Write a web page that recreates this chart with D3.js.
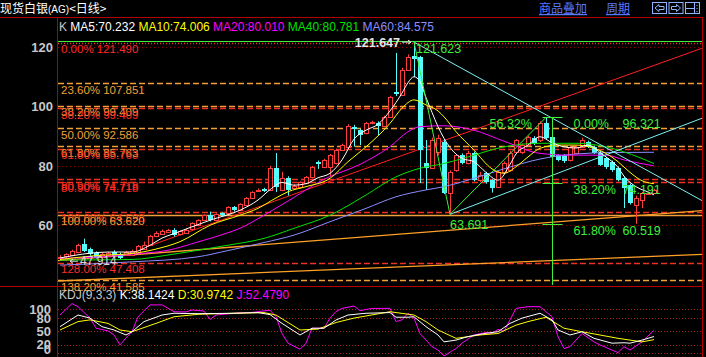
<!DOCTYPE html>
<html>
<head>
<meta charset="utf-8">
<script src="https://cdn.jsdelivr.net/npm/d3@7"></script>
<style>
  body { margin: 0; background: #000; }
  svg { display: block; font-family: "Liberation Sans", Arial, sans-serif; }
</style>
</head>
<body>
<div id="chart"></div>
<script>
// daily candles, index 0..99
const candleOpen  = [49.0,49.5,50.3,51.0,53.8,52.0,50.8,49.8,50.0,51.0, 50.5,50.0,50.3,50.8,52.0,53.5,56.5,57.3,57.8,58.4, 57.0,57.6,58.7,60.0,61.7,63.4,61.7,64.0,64.1,66.0, 65.1,66.8,69.2,71.6,72.2,71.9,79.3,71.9,76.0,72.5, 72.9,74.2,76.2,81.2,79.6,79.5,80.9,85.3,86.5,93.0, 92.0,91.0,94.4,94.5,93.4,96.5,104.8,104.0,112.3,117.1, 116.5,81.0,79.3,84.6,88.0,70.8,78.6,83.6,81.0,84.3, 75.2,77.5,75.2,72.9,77.9,78.6,84.6,84.6,87.0,89.4, 88.7,94.4,89.7,83.6,83.6,82.0,84.3,86.3,88.0,86.3, 84.3,82.6,81.3,79.3,75.9,73.5,66.8,68.5,70.8,70.8];
const candleHigh  = [50.0,50.6,51.8,53.8,55.5,52.5,51.2,50.9,51.0,51.6, 50.8,51.4,51.8,53.4,54.5,56.8,58.0,58.6,58.8,59.0, 58.3,58.9,61.0,62.0,63.7,64.6,64.0,64.4,66.4,66.5, 67.4,69.5,71.5,72.4,72.6,80.0,84.3,78.0,76.5,73.8, 74.8,76.6,80.0,81.8,82.4,84.0,85.8,87.5,94.0,93.8, 92.5,94.8,95.2,95.0,96.9,103.6,118.0,113.0,117.5,121.647, 117.0,88.7,89.5,90.5,89.0,78.5,84.0,84.2,85.0,84.8, 78.0,78.0,75.5,78.3,81.5,85.0,89.0,87.5,90.2,90.0, 95.0,96.321,90.0,84.0,84.0,86.8,86.8,89.5,88.5,86.8, 85.0,83.0,81.8,79.8,76.5,74.0,70.0,71.2,71.3,72.3];
const candleLow   = [48.5,47.914,49.8,50.6,51.0,49.8,48.8,49.4,49.6,49.6, 48.6,49.8,50.0,50.5,51.8,53.2,56.0,57.0,57.4,56.2, 56.6,57.3,58.4,59.7,61.4,61.3,61.4,63.0,63.8,64.6, 64.8,66.5,68.9,71.2,71.2,71.5,71.2,71.5,70.0,72.0, 72.4,73.8,75.8,79.0,79.2,76.5,80.5,85.0,86.2,86.5, 87.0,90.6,94.0,90.4,93.0,96.2,103.5,103.6,112.0,110.0, 74.2,71.9,79.0,83.5,70.5,63.691,78.0,80.5,80.5,74.8, 74.5,74.0,71.0,72.5,77.0,78.0,84.0,84.0,86.5,87.0, 88.0,89.0,82.5,81.5,81.0,81.5,84.0,86.0,86.0,84.0, 80.0,79.0,78.0,74.8,65.8,67.0,60.519,65.8,70.4,70.5];
const candleClose = [49.5,50.3,51.5,53.4,51.5,50.3,49.2,50.4,50.6,49.8, 49.2,51.0,51.5,53.0,53.5,56.5,57.5,58.2,58.4,56.8, 58.0,58.5,60.7,61.7,63.4,61.7,63.8,63.3,66.1,65.0, 67.1,69.2,71.2,71.9,71.6,79.3,72.9,75.9,71.9,73.2, 74.5,76.2,79.5,80.4,82.0,83.5,85.3,87.0,93.5,92.3, 90.4,94.4,94.7,93.4,96.5,103.2,104.2,112.3,116.7,116.2, 85.3,79.3,88.7,89.4,70.8,77.9,83.6,81.0,84.3,75.2, 77.0,74.5,72.5,77.9,81.0,84.3,88.7,87.0,89.7,87.7, 94.4,89.4,83.0,82.0,81.6,86.3,86.3,88.7,86.3,84.3, 80.3,79.6,78.6,75.2,72.5,67.5,69.2,70.8,70.9,71.9];

// moving averages at sample candles
const ma5Idx = [0,5,8,12,15,17,19,22,25,30,33,35,37,39,41,43,45,47,49,51,53,55,57,58,59,60,61,62,63,65,67,69,71,73,75,76,78,80,82,84,86,88,90,91,93,94,96,98,99];
const ma5Val = [49,50.6,51,51,53.3,55.7,57.2,59.5,61.7,65.1,68.5,72,74.4,73.5,74,76,77.5,82,89,92,94,98.5,104.5,108,110,108.3,103,98,93.2,86.2,82.5,81.4,77.8,75.2,80.5,84,87,89.8,87.8,86.4,86,87,84.5,83,79.5,76.5,73,71.2,70.232];
const ma10Idx = [0,6,12,16,20,25,30,33,36,38,41,45,48,51,55,57,59,61,63,64,66,69,72,74,76,78,80,83,86,89,91,93,95,97,99];
const ma10Val = [48.5,49.8,50.5,52,54.5,60,63.4,65.7,69.2,71.3,73,75.8,81.4,86.4,94.3,99.4,102.2,100.5,98.5,96.5,91.5,85.3,79,77.5,79.7,83,85.9,87,87,85.9,84.2,81.4,77.8,75,74.006];
const ma20Idx = [0,7,12,18,23,28,30,34,39,44,50,55,58,60,64,66,69,74,80,85,91,94,99];
const ma20Val = [48.9,49.4,50.3,51.6,54.4,57.5,59,63.4,69.4,75.5,80.5,86.5,91.5,93.2,93.5,93.2,92,88.3,84.2,83.6,83.6,82,80.01];
const ma40Idx = [0,12,18,23,28,34,39,45,51,56,60,64,68,74,80,86,91,94,99];
const ma40Val = [48.3,48.5,50,51.6,53.3,55.6,59,63.4,70.2,76.3,79.2,80.8,83,86.4,87.6,87.6,86.4,84.7,80.781];
const ma60Idx = [0,12,23,28,34,39,45,51,56,61,64,68,74,80,86,92,99];
const ma60Val = [46.6,47.7,49.4,51.5,54.2,56.7,61.2,65.7,69.6,71.9,73,75.2,79,82.3,84,84.5,84.575];

// KDJ(9,3,3) read at sample candles
const kIdx = [0,3,5,7,9,11,12,14,17,19,23,29,33,35,37,40,42,44,46,48,51,55,56,58,59,61,63,64,66,68,71,73,75,77,80,82,83,85,87,89,92,94,95,97,99];
const kVal = [60.5,87,80,60.5,53,41.6,49,72,87,91,90,91,92.5,88,68,41.6,57,57,75.7,87,91,92.5,82,82,83,60.5,41.6,26,30,38,45.5,49,68,80,91,76,53,41.6,49,34,23,24,23,30,38.1424];
const dIdx = [0,3,5,8,10,12,16,19,23,29,34,36,40,43,46,49,55,59,61,63,66,70,73,76,78,81,84,87,90,93,97,99];
const dVal = [53,72,76,68,53,49,68,83,88.6,91,92.5,87,53,55,70,80,94.5,87,72,53,34,41.6,45,64,72,82,57,49,41.6,34,26,30.9742];
const jIdx = [0,2,3,5,6,8,9,10,11,12,13,15,17,19,21,22,24,25,26,29,32,35,36,37,38,40,41,42,44,45,46,47,49,50,52,55,56,57,58,59,60,62,63,64,66,67,69,71,72,73,74,76,78,80,82,83,84,85,87,89,90,93,94,95,97,99];
const jVal = [87,113,106,80,57,51,41.6,19,35,49,83,110,110,94.5,94,98.4,96,77,87,91,93,98,83,45,23,9,23,57,57,80,95,102,107.5,97,102,102,72,76,91,80,45,15,7.5,-6,11,23,42,47,45,54.5,50,102,106,106,83,38,11,15,45,26,19,1.5,15,7.5,26,52.4790];

const priceTicks = [60, 80, 100, 120];
const kdjTicks = [0, 20, 50, 80, 100];

// fibonacci levels
const fibRedLabels = ["0.00%", "38.20%", "61.80%", "80.90%", "128.00%"];
const fibRedValues = [121.490, 99.409, 85.763, 74.718, 47.408];
const fibOrangeLabels = ["23.60%", "50.00%", "100.00%", "138.20%"];
const fibOrangeValues = [107.851, 92.586, 63.620, 41.585];
// second, slightly shifted copy of the tool (lines at these prices)
const ghostLabels = ["38.20% 99.409", "61.80% 85.763", "80.90% 74.718", "100.00% 64.598"];
const ghostValues = [100.2, 86.6, 75.5, 64.598];

// drawn trend lines: [candle index, price]
const greenZig = [[59, 121.647], [65, 63.691], [81, 96.321]];
const cyanDown = [[59, 121.647], [108, 67.2]];
const cyanUp = [[65, 63.691], [108, 96.8]];
const redTrend = [[13, 51.7], [108, 120.3]];
const orangeRise1 = [[-1, 48.0], [108, 65.1]];
const orangeRise2 = [[-1, 41.2], [108, 50.3]];

// green retracement tool
const gFibIdx = 82;
const gFibLabels = ["0.00%", "38.20%", "61.80%"];
const gFibValues = [96.321, 74.191, 60.519];
const swingRatio = "56.32%";
const peakLabels = ["121.647", "121.623"];

const W = 706, H = 357;
const RED = "#ff3c3c", CYAN = "#54fcfc", FRAME = "#b40000";
const ORANGE = "#f2a038", FRED = "#f03020", GREEN = "#3cf03c";

const svg = d3.select("#chart").append("svg")
    .attr("width", W).attr("height", H)
    .style("background", "#000");

const x = d3.scaleLinear().domain([0, 99]).range([60, 654]);
const y = d3.scaleLinear().domain([60, 120]).range([225.3, 47]);
const yk = d3.scaleLinear().domain([0, 100]).range([353.3, 309.3]);
const cx = i => Math.round(x(i)) + 0.5;

const defs = svg.append("defs");
defs.append("clipPath").attr("id", "clipMain").append("rect")
    .attr("x", 58).attr("y", 18).attr("width", 644).attr("height", 267);
defs.append("clipPath").attr("id", "clipKdj").append("rect")
    .attr("x", 58).attr("y", 287).attr("width", 644).attr("height", 70);

// ---- title bar ----
const title = svg.append("text").attr("x", 0).attr("y", 13)
    .attr("fill", "#fff").style("font-family", "'Noto Sans CJK SC', sans-serif").style("font-size", "12px");
title.append("tspan").text("现货白银");
title.append("tspan").style("font-size", "10px").style("font-family", "'Liberation Sans'").text("(AG)");
title.append("tspan").text("<日线>");

svg.append("text").attr("x", 539).attr("y", 13).attr("fill", "#5a78ff")
    .style("font-family", "'Noto Sans CJK SC', sans-serif").style("font-size", "12px")
    .style("text-decoration", "underline").text("商品叠加");
svg.append("text").attr("x", 606).attr("y", 13).attr("fill", "#5a78ff")
    .style("font-family", "'Noto Sans CJK SC', sans-serif").style("font-size", "12px")
    .style("text-decoration", "underline").text("周期");

const icons = svg.append("g").attr("stroke", "#8fb4ff").attr("fill", "none");
[652, 668.5, 685].forEach((bx, k) => {
    icons.append("rect").attr("x", bx + 0.5).attr("y", 2.5).attr("width", 14).attr("height", 11);
    if (k === 0) icons.append("path").attr("d", `M${bx + 3},8 l4,-3.5 v2 h5 v3 h-5 v2 z`);
    if (k === 1) icons.append("path").attr("d", `M${bx + 12},8 l-4,-3.5 v2 h-5 v3 h5 v2 z`);
    if (k === 2) icons.append("path").attr("d", `M${bx + 0.5},8.5 h9 M${bx + 9.5},2.5 v11 M${bx + 12},5 v1 M${bx + 12},8 v1 M${bx + 12},11 v1`);
});

// ---- frame ----
const frame = svg.append("g").attr("stroke", FRAME).attr("stroke-width", 1);
frame.append("line").attr("x1", 0).attr("x2", 703).attr("y1", 17.5).attr("y2", 17.5);
frame.append("line").attr("x1", 0).attr("x2", 703).attr("y1", 286.5).attr("y2", 286.5);
frame.append("line").attr("x1", 57.5).attr("x2", 57.5).attr("y1", 17).attr("y2", H);
frame.append("line").attr("x1", 702.5).attr("x2", 702.5).attr("y1", 17).attr("y2", H);

// ---- legend ----
const legend = svg.append("text").attr("x", 59).attr("y", 31).style("font-size", "12px");
legend.append("tspan").attr("fill", "#c8c8c8").text("K  ");
legend.append("tspan").attr("fill", "#fff").text("MA5:" + ma5Val[ma5Val.length - 1].toFixed(3) + " ");
legend.append("tspan").attr("fill", "#ffff00").text("MA10:" + ma10Val[ma10Val.length - 1].toFixed(3) + " ");
legend.append("tspan").attr("fill", "#ff00ff").text("MA20:" + ma20Val[ma20Val.length - 1].toFixed(3) + " ");
legend.append("tspan").attr("fill", "#00e000").text("MA40:" + ma40Val[ma40Val.length - 1].toFixed(3) + " ");
legend.append("tspan").attr("fill", "#8c8cff").text("MA60:" + ma60Val[ma60Val.length - 1].toFixed(3));

// ---- price axis ----
const yAxis = svg.append("g").attr("transform", "translate(53,0)")
    .call(d3.axisLeft(y).tickValues(priceTicks).tickSize(0).tickPadding(0));
yAxis.select(".domain").remove();
yAxis.selectAll("text").attr("fill", "#c8c8c8").style("font-size", "13px").style("font-weight", "bold")
    .style("font-family", "'Liberation Sans', Arial");

const main = svg.append("g").attr("clip-path", "url(#clipMain)");

// grid
main.append("g").selectAll("line").data(priceTicks).join("line")
    .attr("x1", 58).attr("x2", 702)
    .attr("y1", d => Math.round(y(d)) + 0.5).attr("y2", d => Math.round(y(d)) + 0.5)
    .attr("stroke", "#8a0000").attr("stroke-dasharray", "1,3");

// fib lines
const fibLine = (vals, color, dash) => main.append("g").selectAll("line").data(vals).join("line")
    .attr("x1", 58).attr("x2", 702)
    .attr("y1", d => Math.round(y(d)) + 0.5).attr("y2", d => Math.round(y(d)) + 0.5)
    .attr("stroke", color).attr("stroke-width", 1.3).attr("stroke-dasharray", dash);
const ghostColor = (d, i) => i < 2 ? ORANGE : FRED;
main.append("g").selectAll("line").data(ghostValues).join("line")
    .attr("x1", 58).attr("x2", 702)
    .attr("y1", d => Math.round(y(d)) + 0.5).attr("y2", d => Math.round(y(d)) + 0.5)
    .attr("stroke", ghostColor).attr("stroke-width", 1.3).attr("stroke-dasharray", "6,3");
fibLine(fibRedValues.slice(1), FRED, "6,3");
fibLine(fibRedValues.slice(0, 1), FRED, "1,2");
fibLine(fibOrangeValues.filter(v => v !== 63.620), ORANGE, "6,3");
fibLine([63.620], ORANGE, null);

// trend lines
const seg = d3.line().x(d => x(d[0])).y(d => y(d[1]));
const trend = (pts, color, w) => main.append("path").datum(pts)
    .attr("d", seg).attr("fill", "none").attr("stroke", color).attr("stroke-width", w || 1);
trend(orangeRise1, "#ffa028", 1.3);
trend(orangeRise2, "#ffa028", 1.3);
trend(redTrend, "#ff2020");

// fib labels (not clipped: the lowest one sits on the panel divider)
const fibTextG = svg.append("g").style("font-size", "11.5px");
fibTextG.selectAll("text.g").data(ghostValues).join("text").attr("class", "g")
    .attr("x", 61).attr("y", d => y(d) + 10.5)
    .attr("fill", (d, i) => i < 2 ? ORANGE : "#ff3018")
    .text((d, i) => ghostLabels[i]);
fibTextG.selectAll("text.o").data(fibOrangeValues).join("text").attr("class", "o")
    .attr("x", 61).attr("y", d => y(d) + 10.5).attr("fill", ORANGE)
    .text((d, i) => fibOrangeLabels[i] + " " + d.toFixed(3));
fibTextG.selectAll("text.r").data(fibRedValues).join("text").attr("class", "r")
    .attr("x", 61).attr("y", d => y(d) + 10.5).attr("fill", "#ff2a2a")
    .text((d, i) => fibRedLabels[i] + " " + d.toFixed(3));

// moving averages
const maLine = (idx, vals, color) => main.append("path")
    .datum(idx.map((d, k) => [d, vals[k]]))
    .attr("d", d3.line().x(d => x(d[0])).y(d => y(d[1])).curve(d3.curveMonotoneX))
    .attr("fill", "none").attr("stroke", color).attr("stroke-width", 1);

// candles
const candles = d3.range(candleOpen.length).map(i => ({
    i, o: candleOpen[i], h: candleHigh[i], l: candleLow[i], c: candleClose[i]
}));
const cg = main.append("g");
cg.selectAll("line").data(candles).join("line")
    .attr("x1", d => cx(d.i)).attr("x2", d => cx(d.i))
    .attr("y1", d => y(d.h)).attr("y2", d => y(d.l))
    .attr("stroke", d => d.c >= d.o ? RED : CYAN);
cg.selectAll("rect").data(candles).join("rect")
    .attr("x", d => d.c >= d.o ? cx(d.i) - 2 : cx(d.i) - 2.5)
    .attr("width", d => d.c >= d.o ? 4 : 5)
    .attr("y", d => Math.round(y(Math.max(d.o, d.c))) + (d.c >= d.o ? 0.5 : 0))
    .attr("height", d => Math.max(1, Math.round(y(Math.min(d.o, d.c)) - y(Math.max(d.o, d.c)))))
    .attr("fill", d => d.c >= d.o ? "#000" : CYAN)
    .attr("stroke", d => d.c >= d.o ? RED : "none");

maLine(ma60Idx, ma60Val, "#8c8cff");
maLine(ma40Idx, ma40Val, "#00e000");
maLine(ma20Idx, ma20Val, "#ff00ff");
maLine(ma10Idx, ma10Val, "#ffff00");
maLine(ma5Idx, ma5Val, "#ffffff");

trend(cyanDown, "#7ff0f0");
trend(cyanUp, "#7ff0f0");
trend(greenZig, GREEN);

// top green level
main.append("line").attr("x1", 58).attr("x2", 702)
    .attr("y1", Math.round(y(greenZig[0][1])) - 0.5).attr("y2", Math.round(y(greenZig[0][1])) - 0.5)
    .attr("stroke", GREEN);

// green retracement tool
const gx = cx(gFibIdx);
main.append("line").attr("x1", gx).attr("x2", gx).attr("y1", y(gFibValues[0])).attr("y2", 286)
    .attr("stroke", GREEN);
main.append("g").selectAll("line").data(gFibValues).join("line")
    .attr("x1", gx - 10).attr("x2", gx + 10)
    .attr("y1", d => Math.round(y(d)) + 0.5).attr("y2", d => Math.round(y(d)) + 0.5)
    .attr("stroke", GREEN);
const gl = main.append("g").attr("fill", GREEN).style("font-size", "12.5px");
gl.selectAll("text.p").data(gFibValues).join("text").attr("class", "p")
    .attr("x", gx + 21).attr("y", d => y(d) + 11).text((d, i) => gFibLabels[i]);
gl.selectAll("text.v").data(gFibValues).join("text").attr("class", "v")
    .attr("x", gx + 70).attr("y", d => y(d) + 11).text(d => d.toFixed(3));
gl.append("text").attr("x", gx - 63).attr("y", y(gFibValues[0]) + 11).text(swingRatio);
gl.append("text").attr("x", x(greenZig[1][0])).attr("y", y(greenZig[1][1]) + 15)
    .text(greenZig[1][1].toFixed(3));
gl.append("text").attr("x", x(greenZig[0][0]) + 2).attr("y", y(greenZig[0][1]) + 11)
    .text(peakLabels[1]);

// extreme price tags
main.append("text").attr("x", x(59) - 14).attr("y", y(121.647) + 5)
    .attr("text-anchor", "end").attr("fill", "#e6e6e6")
    .style("font-size", "12.5px").style("font-weight", "bold").text(peakLabels[0]);
main.append("path").attr("d", `M${x(59) - 12},${y(121.647)} h9 m-3,-2 l3,2 l-3,2`)
    .attr("stroke", "#e6e6e6").attr("fill", "none");
main.append("text").attr("x", x(1) + 14).attr("y", y(47.914) + 4)
    .attr("fill", "#d8d8d8").style("font-size", "12px").text("47.914");
main.append("path").attr("d", `M${x(1) + 12},${y(47.914)} h-8 m3,-2 l-3,2 l3,2`)
    .attr("stroke", "#d8d8d8").attr("fill", "none");

// ---- KDJ panel ----
const kdjLegend = svg.append("text").attr("x", 59).attr("y", 299).style("font-size", "12px");
kdjLegend.append("tspan").attr("fill", "#c8c8c8").text("KDJ(9,3,3) ");
kdjLegend.append("tspan").attr("fill", "#fff").text("K:" + kVal[kVal.length - 1].toFixed(4) + " ");
kdjLegend.append("tspan").attr("fill", "#ffff00").text("D:" + dVal[dVal.length - 1].toFixed(4) + " ");
kdjLegend.append("tspan").attr("fill", "#ff00ff").text("J:" + jVal[jVal.length - 1].toFixed(4));

const kAxis = svg.append("g").attr("transform", "translate(51,0)")
    .call(d3.axisLeft(yk).tickValues(kdjTicks).tickSize(0).tickPadding(0));
kAxis.select(".domain").remove();
kAxis.selectAll("text").attr("fill", "#c8c8c8").style("font-size", "13px").style("font-weight", "bold")
    .style("font-family", "'Liberation Sans', Arial")
    .attr("y", d => d === 0 ? -4 : 0);

const kdj = svg.append("g").attr("clip-path", "url(#clipKdj)");
kdj.append("g").selectAll("line").data(kdjTicks).join("line")
    .attr("x1", 58).attr("x2", 702)
    .attr("y1", d => Math.round(yk(d)) + 0.5).attr("y2", d => Math.round(yk(d)) + 0.5)
    .attr("stroke", "#a02020").attr("stroke-dasharray", "1,2");
const kdjLine = (idx, vals, color) => kdj.append("path")
    .datum(idx.map((d, k) => [d, vals[k]]))
    .attr("d", d3.line().x(d => x(d[0])).y(d => yk(d[1])))
    .attr("fill", "none").attr("stroke", color).attr("stroke-width", 1);
kdjLine(jIdx, jVal, "#ff00ff");
kdjLine(dIdx, dVal, "#ffff00");
kdjLine(kIdx, kVal, "#ffffff");
</script>
</body>
</html>
